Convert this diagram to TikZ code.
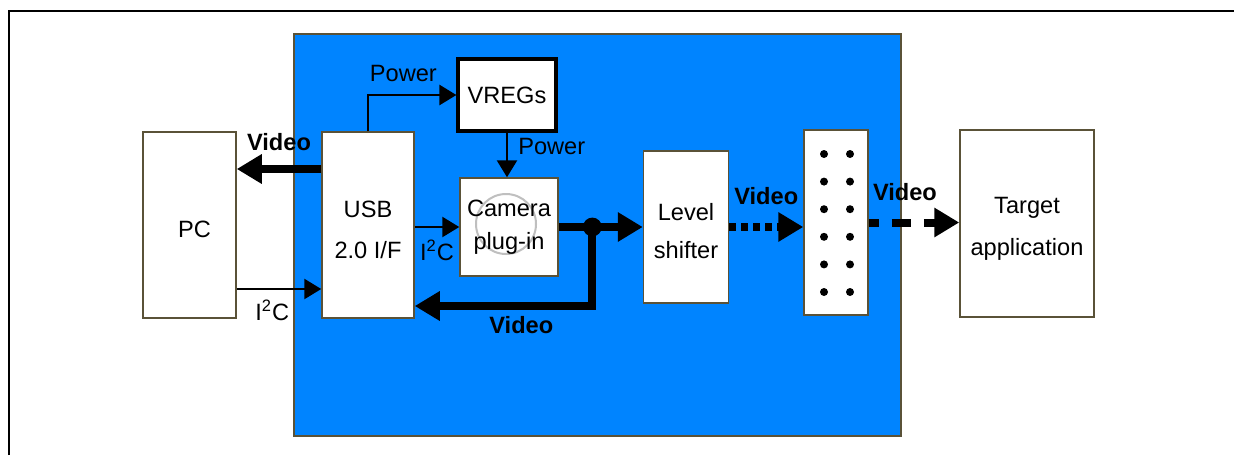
\documentclass[tikz,border=0pt]{standalone}
\usepackage{fontspec}
\setmainfont{Liberation Sans}
\usetikzlibrary{positioning,calc,arrows.meta}
\definecolor{boardblue}{RGB}{0,132,255}
\definecolor{edgegrey}{HTML}{5A5238}
\def\lowstrut{\rule{0pt}{13pt}}
\tikzset{
	blk/.style={draw=edgegrey, line width=0.75pt, fill=white, inner sep=0pt, align=center, font=\fontsize{11.8}{20.5}\selectfont},
	thinarr/.style={line width=1.3pt, -{Triangle[length=8.5pt,width=10pt]}},
	vidarr/.style={line width=4pt, -{Triangle[length=12.5pt,width=14pt]}},
	lbl/.style={font=\fontsize{11.8}{14}\selectfont, inner sep=1pt},
	vidlbl/.style={font=\bfseries\fontsize{11.8}{14}\selectfont, inner sep=1pt}
}

\begin{document}
\begin{tikzpicture}[x=0.5pt,y=-0.5pt]
			\useasboundingbox (0,0) rectangle (1234,455);
			% frame and demo board
			\draw[line width=1pt] (9,455) -- (9,11) -- (1234,11);
			\draw[draw=edgegrey, fill=boardblue, line width=0.75pt] (294,34) rectangle (901,436);

			\node[blk, minimum width=46.5pt, minimum height=93pt] (pc) at (189.5,225) {\lowstrut\hspace*{5pt}PC};
			\node[blk, minimum width=46pt, minimum height=93pt] (usb) at (368,225) {\lowstrut USB\\2.0 I/F};
			\node[blk, draw=black, line width=1.6pt, minimum width=49pt, minimum height=36pt] (vregs) at (507,95) {VREGs};
			\node[blk, minimum width=49pt, minimum height=49pt, font=\fontsize{11.8}{16.5}\selectfont,
				path picture={\draw[gray!50, line width=1pt] ([shift={(-1.5pt,1.5pt)}]path picture bounding box.center) circle (15pt);}]
				(cam) at (509,227) {Camera\\plug-in};
			\node[blk, minimum width=42.5pt, minimum height=76pt, font=\fontsize{11.8}{19}\selectfont] (lvl) at (686,227) {\lowstrut Level\\shifter};
			\node[blk, minimum width=32pt, minimum height=92.5pt] (conn) at (836,222.5) {};
			\node[blk, minimum width=67pt, minimum height=93.5pt, font=\fontsize{11.8}{21}\selectfont] (tgt) at (1027,223.5) {\lowstrut Target\\application};

			% pins of the connector
			\foreach \k in {0,...,5} {
				\fill (824,{154+27.6*\k}) circle (2pt);
				\fill (850,{154+27.6*\k}) circle (2pt);
			}

			% power and I2C
			\draw[thinarr] (usb.north) |- node[lbl, pos=0.7, above=5pt] (pwusb) {Power} (vregs.west);
			\draw[thinarr] (vregs.south) -- node[lbl, pos=0.3, right=4pt] (pwcam) {Power} (vregs.south |- cam.north);
			\draw[thinarr] ($(pc.east)+(0,64)$) -- node[lbl, pos=0.42, below=4pt] (i2cpc) {I\textsuperscript{2}C} ($(usb.west)+(0,64)$);
			\draw[thinarr] (usb.east |- cam.west) -- node[lbl, below=5pt] (i2ccam) {I\textsuperscript{2}C} (cam.west);

			% video paths
			\coordinate (jn) at ($(cam.east)!0.4!(lvl.west)$);
			\draw[vidarr] ($(usb.west)+(0,-56)$) -- node[vidlbl, above=6pt] (vidpc) {Video} ($(pc.east)+(0,-56)$);
			\draw[vidarr] (cam.east) -- (lvl.west);
			\draw[vidarr] (jn) |- node[vidlbl, pos=0.7, below=2pt] (vidusb) {Video} ($(usb.east)+(0,81)$);
			\fill (jn) circle (4.7pt);
			\draw[vidarr, dash pattern=on 3.5pt off 2.5pt] (lvl.east) -- node[vidlbl, above=8pt] (vidconn) {Video} (lvl.east -| conn.west);
			\draw[vidarr, dash pattern=on 9.5pt off 6.5pt, dash phase=4.5pt] (conn.east) -- node[vidlbl, pos=0.4, above=8pt] (vidtgt) {Video} (conn.east -| tgt.west);
\end{tikzpicture}
\end{document}
